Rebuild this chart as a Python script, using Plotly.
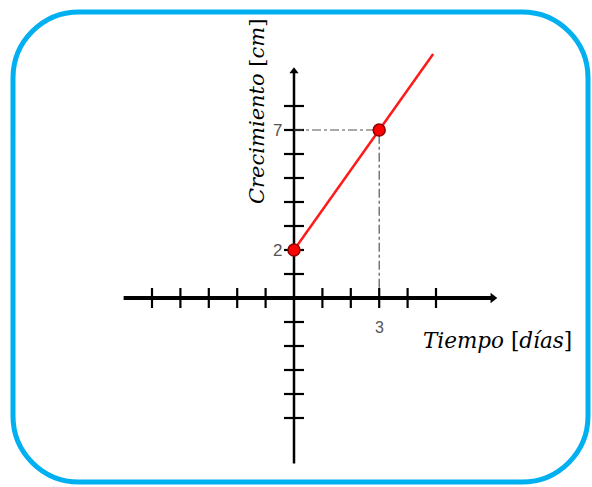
import plotly.graph_objects as go

# ---- data ----
x_ticks = [-5, -4, -3, -2, -1, 1, 2, 3, 4, 5]
y_ticks = [-5, -4, -3, -2, -1, 1, 2, 3, 4, 5, 6, 7, 8]
points_x = [0, 3]
points_y = [2, 7]
line_x = [0, 4.9]
line_y = [2, 10.17]
x_axis_extent = [-6.0, 7.0]
y_axis_extent = [-6.9, 9.45]
x_labels = {3: "3"}
y_labels = {2: "2", 7: "7"}

W, H = 592, 487
ux, uy = 28.4, 24.0          # pixels per unit
ox, oy = 294, 298            # origin in pixels
xr = [-ox / ux, (W - ox) / ux]
yr = [-(H - oy) / uy, oy / uy]

fig = go.Figure()
tx = 10 / ux   # half tick length (x units)
ty = 10 / uy   # half tick length (y units)

# x axis
fig.add_trace(go.Scatter(x=x_axis_extent, y=[0, 0], mode="lines",
                         line=dict(color="black", width=4), hoverinfo="skip"))
fig.add_trace(go.Scatter(x=[x_axis_extent[1]], y=[0], mode="markers",
                         marker=dict(symbol="triangle-right", size=9, color="black"), hoverinfo="skip"))
# y axis
fig.add_trace(go.Scatter(x=[0, 0], y=y_axis_extent, mode="lines",
                         line=dict(color="black", width=2.5), hoverinfo="skip"))
fig.add_trace(go.Scatter(x=[0], y=[y_axis_extent[1]], mode="markers",
                         marker=dict(symbol="triangle-up", size=8, color="black"), hoverinfo="skip"))
# ticks
xs, ys = [], []
for t in x_ticks:
    xs += [t, t, None]
    ys += [-ty, ty, None]
fig.add_trace(go.Scatter(x=xs, y=ys, mode="lines", line=dict(color="black", width=2.2), hoverinfo="skip"))
xs, ys = [], []
for t in y_ticks:
    xs += [-tx, tx, None]
    ys += [t, t, None]
fig.add_trace(go.Scatter(x=xs, y=ys, mode="lines", line=dict(color="black", width=2.2), hoverinfo="skip"))

# guide lines (dash-dot)
fig.add_trace(go.Scatter(x=[0, points_x[1], points_x[1]], y=[points_y[1], points_y[1], 0.3],
                         mode="lines", line=dict(color="#555555", width=1.2, dash="dashdot"),
                         hoverinfo="skip"))
# red line
fig.add_trace(go.Scatter(x=line_x, y=line_y, mode="lines",
                         line=dict(color="#ff1a1a", width=2.5), hoverinfo="skip"))
# points
fig.add_trace(go.Scatter(x=points_x, y=points_y, mode="markers",
                         marker=dict(size=12, color="#ff0000", line=dict(color="#8b0000", width=1.5)),
                         hoverinfo="skip"))

annotations = []
for v, s in y_labels.items():
    annotations.append(dict(x=-10 / ux, y=v, text=s, showarrow=False, xanchor="right", yanchor="middle",
                            font=dict(family="Liberation Sans, Arial", size=17, color="#555555")))
for v, s in x_labels.items():
    annotations.append(dict(x=v, y=-19 / uy, text=s, showarrow=False, xanchor="center", yanchor="top",
                            font=dict(family="Liberation Sans, Arial", size=16, color="#555555")))
annotations.append(dict(xref="x2", yref="y2", x=257, y=112, text="<i>Crecimiento</i> [<i>cm</i>]",
                        textangle=-90, showarrow=False,
                        font=dict(family="DejaVu Serif", size=21, color="black")))
annotations.append(dict(xref="x2", yref="y2", x=497, y=340, text="<i>Tiempo</i> [<i>días</i>]",
                        showarrow=False,
                        font=dict(family="DejaVu Serif", size=21.5, color="black")))

# rounded border in pixel coordinates
L, R, T, B, r = 13, 588, 12, 482, 66
k = 0.5523 * r
path = (f"M {L+r},{T} H {R-r} C {R-r+k},{T} {R},{T+r-k} {R},{T+r} "
        f"V {B-r} C {R},{B-r+k} {R-r+k},{B} {R-r},{B} "
        f"H {L+r} C {L+r-k},{B} {L},{B-r+k} {L},{B-r} "
        f"V {T+r} C {L},{T+r-k} {L+r-k},{T} {L+r},{T} Z")
fig.add_trace(go.Scatter(x=[0], y=[0], xaxis="x2", yaxis="y2", mode="markers",
                         marker=dict(opacity=0), hoverinfo="skip"))

fig.update_layout(
    width=W, height=H, margin=dict(l=0, r=0, t=0, b=0, pad=0),
    paper_bgcolor="white", plot_bgcolor="white", showlegend=False,
    xaxis=dict(range=xr, visible=False, showgrid=False, zeroline=False, fixedrange=True),
    yaxis=dict(range=yr, visible=False, showgrid=False, zeroline=False, fixedrange=True),
    xaxis2=dict(range=[0, W], visible=False, overlaying="x", showgrid=False, zeroline=False),
    yaxis2=dict(range=[H, 0], visible=False, overlaying="y", showgrid=False, zeroline=False),
    shapes=[dict(type="path", path=path, xref="x2", yref="y2",
                 line=dict(color="#00b0f0", width=5), layer="above")],
    annotations=annotations,
)
fig.write_html("out.html", config={"displayModeBar": False},
               post_script="document.body.style.margin='0';document.body.style.overflow='hidden';")
